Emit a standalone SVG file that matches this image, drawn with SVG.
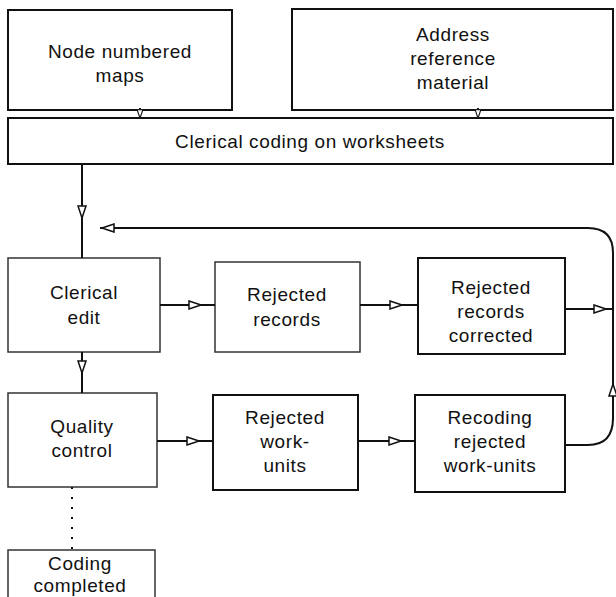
<svg xmlns="http://www.w3.org/2000/svg" width="616" height="597" viewBox="0 0 616 597">
<style>
.box{fill:#fff;stroke:#111;stroke-width:2}
.lt{stroke:#333;stroke-width:1.5}
.t{font-family:"Liberation Sans",Arial,sans-serif;font-size:19px;letter-spacing:0.6px;fill:#111;text-anchor:middle}
.c{fill:none;stroke:#111;stroke-width:2}
</style>
<defs>
<marker id="ah" viewBox="0 0 14 10" refX="7" refY="5" markerWidth="14" markerHeight="10" markerUnits="userSpaceOnUse" orient="auto">
<path d="M1,1 L13,5 L1,9 Z" fill="#fff" stroke="#111" stroke-width="1.5"/>
</marker>
<marker id="as" viewBox="0 0 14 10" refX="7" refY="5" markerWidth="10" markerHeight="8" markerUnits="userSpaceOnUse" orient="auto">
<path d="M1,1 L13,5 L1,9 Z" fill="#fff" stroke="#111" stroke-width="1.5"/>
</marker>
</defs>
<rect width="616" height="597" fill="#fff"/>
<g id="n1"><rect class="box" x="8" y="10" width="224" height="100"/>
<text class="t" x="120" y="58">Node numbered</text><text class="t" x="120" y="82">maps</text></g>
<g id="n2"><rect class="box" x="292" y="9" width="321" height="101"/>
<text class="t" x="453" y="41">Address</text><text class="t" x="453" y="65">reference</text><text class="t" x="453" y="89">material</text></g>
<g id="n3"><rect class="box" x="8" y="118" width="605" height="46"/>
<text class="t" x="310" y="148">Clerical coding on worksheets</text></g>
<g id="n4"><rect class="box lt" x="8" y="258" width="152" height="94"/>
<text class="t" x="84" y="299">Clerical</text><text class="t" x="84" y="324">edit</text></g>
<g id="n5"><rect class="box lt" x="215" y="262" width="145" height="90"/>
<text class="t" x="287" y="301">Rejected</text><text class="t" x="287" y="326">records</text></g>
<g id="n6"><rect class="box" x="418" y="258" width="147" height="96"/>
<text class="t" x="491" y="294">Rejected</text><text class="t" x="491" y="318">records</text><text class="t" x="491" y="342">corrected</text></g>
<g id="n7"><rect class="box lt" x="8" y="393" width="149" height="94"/>
<text class="t" x="82" y="433">Quality</text><text class="t" x="82" y="457">control</text></g>
<g id="n8"><rect class="box" x="213" y="395" width="145" height="95"/>
<text class="t" x="285" y="424">Rejected</text><text class="t" x="285" y="448">work-</text><text class="t" x="285" y="472">units</text></g>
<g id="n9"><rect class="box" x="415" y="395" width="150" height="97"/>
<text class="t" x="490" y="424">Recoding</text><text class="t" x="490" y="448">rejected</text><text class="t" x="490" y="472">work-units</text></g>
<g id="n10"><rect class="box lt" x="8" y="550" width="147" height="52"/>
<text class="t" x="80" y="570">Coding</text><text class="t" x="80" y="592">completed</text></g>
<g id="connectors">
<line class="c" x1="140" y1="110" x2="140" y2="118"/>
<line class="c" x1="140" y1="108" x2="140" y2="114" marker-end="url(#as)"/>
<line class="c" x1="478" y1="110" x2="478" y2="118"/>
<line class="c" x1="478" y1="108" x2="478" y2="114" marker-end="url(#as)"/>
<line class="c lt" x1="82" y1="164" x2="82" y2="258"/>
<line class="c lt" x1="82" y1="164" x2="82" y2="212" marker-end="url(#ah)"/>
<line class="c lt" x1="160" y1="305" x2="215" y2="305"/>
<line class="c lt" x1="160" y1="305" x2="195" y2="305" marker-end="url(#ah)"/>
<line class="c" x1="360" y1="305" x2="418" y2="305"/>
<line class="c" x1="360" y1="305" x2="396" y2="305" marker-end="url(#ah)"/>
<line class="c" x1="565" y1="309" x2="613" y2="309"/>
<line class="c" x1="565" y1="309" x2="600" y2="309" marker-end="url(#ah)"/>
<path class="c" d="M565,445 L588,445 Q613,445 613,418 L613,253 Q613,228 588,228 L100,228"/>
<line class="c" x1="613" y1="420" x2="613" y2="390" marker-end="url(#ah)"/>
<line class="c" x1="140" y1="228" x2="108" y2="228" marker-end="url(#ah)"/>
<line class="c lt" x1="82" y1="352" x2="82" y2="393"/>
<line class="c lt" x1="82" y1="352" x2="82" y2="367" marker-end="url(#ah)"/>
<line class="c" x1="157" y1="441" x2="213" y2="441"/>
<line class="c" x1="157" y1="441" x2="193" y2="441" marker-end="url(#ah)"/>
<line class="c" x1="358" y1="441" x2="415" y2="441"/>
<line class="c" x1="358" y1="441" x2="395" y2="441" marker-end="url(#ah)"/>
<line class="c lt" x1="72" y1="487" x2="72" y2="550" stroke="#777" stroke-dasharray="2,8"/>
</g>
</svg>
